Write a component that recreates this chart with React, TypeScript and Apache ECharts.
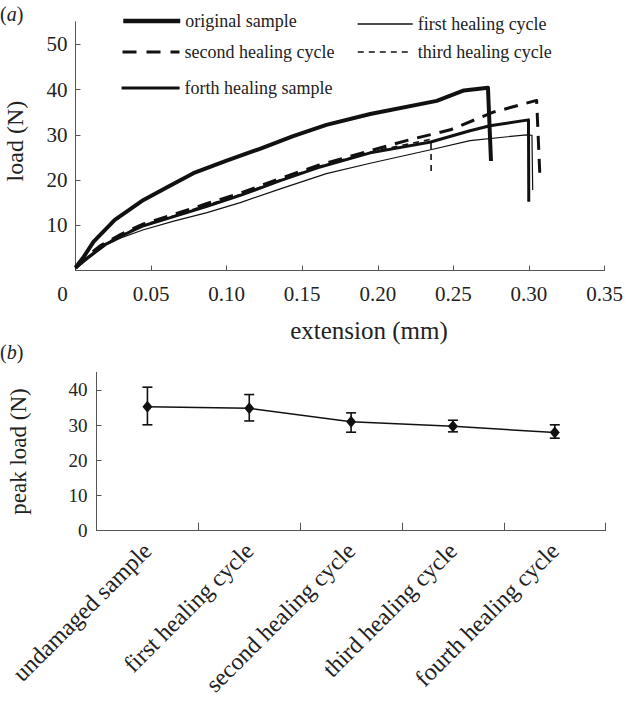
import React, { useEffect, useRef } from "react";
import * as echarts from "echarts";

// ---------- Data: panel (a) load vs extension ----------
const originalX = [0, 0.005, 0.012, 0.026, 0.045, 0.06, 0.078, 0.1, 0.122, 0.144, 0.166, 0.195, 0.239, 0.257, 0.2729, 0.2749];
const originalY = [0.6, 2.8, 6.4, 11.2, 15.6, 18.3, 21.5, 24.3, 26.9, 29.7, 32.2, 34.6, 37.5, 39.8, 40.4, 24.2];

const firstX = [0, 0.008, 0.02, 0.03, 0.045, 0.065, 0.087, 0.109, 0.135, 0.166, 0.195, 0.235, 0.261, 0.2985, 0.302, 0.3025];
const firstY = [0.3, 2.5, 5.6, 7.2, 9.0, 10.9, 12.8, 15.0, 18.0, 21.4, 23.7, 26.7, 28.7, 30.0, 29.9, 17.8];

const secondX = [0, 0.008, 0.016, 0.03, 0.045, 0.065, 0.087, 0.109, 0.135, 0.16, 0.195, 0.221, 0.248, 0.2764, 0.3051, 0.3072];
const secondY = [0.8, 3.2, 5.4, 8.0, 10.3, 12.4, 14.8, 17.1, 20.3, 23.2, 26.5, 28.9, 31.1, 35.0, 37.6, 21.3];

const thirdX = [0, 0.008, 0.02, 0.03, 0.045, 0.065, 0.087, 0.109, 0.135, 0.16, 0.195, 0.2352, 0.2353];
const thirdY = [0.6, 2.9, 6.0, 7.8, 10.1, 12.1, 14.5, 16.8, 20.0, 22.9, 26.2, 29.0, 21.3];

const forthX = [0, 0.007, 0.02, 0.03, 0.045, 0.065, 0.087, 0.109, 0.135, 0.16, 0.195, 0.235, 0.261, 0.2742, 0.2997, 0.2999];
const forthY = [0.5, 2.6, 5.8, 7.6, 9.9, 11.9, 14.2, 16.6, 19.8, 22.7, 26.0, 28.4, 30.9, 32.0, 33.3, 15.2];

const topXTicks = [0, 0.05, 0.1, 0.15, 0.2, 0.25, 0.3, 0.35];
const topYTicks = [10, 20, 30, 40, 50];

// ---------- Data: panel (b) peak load ----------
const stages = ["undamaged sample", "first healing cycle", "second healing cycle", "third healing cycle", "fourth healing cycle"];
const peakMean = [35.2, 34.8, 31.0, 29.7, 27.9];
const peakLow = [30.1, 31.2, 28.0, 28.1, 26.3];
const peakHigh = [40.8, 38.7, 33.5, 31.4, 30.1];
const bottomYTicks = [0, 10, 20, 30, 40];

const FONT = "'Liberation Serif', 'Times New Roman', serif";
const INK = "#111";
const AXIS = "#555";
const TXT = "#222";

const pairs = (xs: number[], ys: number[]) => xs.map((x, i) => [x, ys[i]]);

export default function App() {
  const ref = useRef<HTMLDivElement>(null);

  useEffect(() => {
    if (!ref.current) return;
    const chart = echarts.init(ref.current, undefined, { renderer: "svg" });

    const legendText = { fontSize: 18, fontFamily: FONT, color: TXT, lineHeight: 20 };
    const mkLegend = (name: string, left: number, top: number, w: number, lw: number, type: any) => ({
      left,
      top,
      data: [name],
      itemWidth: w,
      itemHeight: 10,
      padding: 0,
      selectedMode: false,
      itemStyle: { opacity: 0, borderWidth: 0 },
      lineStyle: { width: lw, type, color: INK, cap: "butt" },
      textStyle: legendText,
    });

    const lineSeries = (name: string, xs: number[], ys: number[], width: number, type: any) => ({
      name,
      type: "line",
      xAxisIndex: 0,
      yAxisIndex: 0,
      data: pairs(xs, ys),
      showSymbol: false,
      symbol: "none",
      smooth: false,
      color: INK,
      lineStyle: { color: INK, width, type, cap: "butt", join: "round" },
    });

    const option: any = {
      animation: false,
      backgroundColor: "#fff",
      textStyle: { fontFamily: FONT },
      legend: [
        mkLegend("original sample", 121, 11, 57, 4.5, "solid"),
        mkLegend("first healing cycle", 357, 14, 55, 1.3, "solid"),
        mkLegend("second healing cycle", 121, 42, 57, 3, [14, 10]),
        mkLegend("third healing cycle", 357, 42, 55, 1.6, [6, 5]),
        mkLegend("forth healing sample", 120, 78, 58, 3.2, "solid"),
      ],
      graphic: [
        {
          type: "text",
          left: 0,
          top: 4,
          style: {
            text: "({i|a})",
            fontSize: 20,
            fontFamily: FONT,
            fill: TXT,
            rich: { i: { fontStyle: "italic", fontSize: 20, fontFamily: FONT, fill: TXT } },
          },
        },
        {
          type: "text",
          left: 0,
          top: 342,
          style: {
            text: "({i|b})",
            fontSize: 20,
            fontFamily: FONT,
            fill: TXT,
            rich: { i: { fontStyle: "italic", fontSize: 20, fontFamily: FONT, fill: TXT } },
          },
        },
      ],
      grid: [
        { left: 75.5, top: 21.7, width: 529, height: 248.8, containLabel: false, outerBoundsMode: "none" },
        { left: 96.5, top: 372.4, width: 509.2, height: 158.3, containLabel: false, outerBoundsMode: "none" },
      ],
      xAxis: [
        {
          gridIndex: 0,
          type: "value",
          min: 0,
          max: 0.35,
          interval: 0.05,
          axisLine: { show: true, lineStyle: { color: AXIS, width: 1 } },
          axisTick: { show: true, inside: true, length: 5, lineStyle: { color: AXIS }, customValues: topXTicks },
          splitLine: { show: false },
          axisLabel: {
            customValues: topXTicks,
            margin: 13,
            fontSize: 21,
            fontFamily: FONT,
            color: TXT,
            formatter: (v: number) => (v === 0 ? "{z|0}" : v.toFixed(2)),
            rich: { z: { fontSize: 21, fontFamily: FONT, color: TXT, padding: [0, 26, 0, 0] } },
          },
          name: "extension (mm)",
          nameLocation: "middle",
          nameGap: 47,
          nameTextStyle: { fontSize: 25, fontFamily: FONT, color: TXT, padding: [0, 0, 0, 58] },
        },
        {
          gridIndex: 1,
          type: "category",
          data: stages,
          boundaryGap: true,
          axisLine: { show: true, lineStyle: { color: AXIS, width: 1 } },
          axisTick: { show: true, inside: true, length: 8, lineStyle: { color: AXIS } },
          splitLine: { show: false },
          axisLabel: {
            interval: 0,
            rotate: 45,
            margin: 16,
            fontSize: 24,
            fontFamily: FONT,
            color: TXT,
          },
        },
      ],
      yAxis: [
        {
          gridIndex: 0,
          type: "value",
          min: 0,
          max: 55,
          interval: 10,
          axisLine: { show: true, lineStyle: { color: AXIS, width: 1 } },
          axisTick: { show: true, inside: true, length: 5, lineStyle: { color: AXIS }, customValues: topYTicks },
          splitLine: { show: false },
          axisLabel: { customValues: topYTicks, margin: 8, fontSize: 21, fontFamily: FONT, color: TXT },
          name: "load (N)",
          nameLocation: "middle",
          nameGap: 49,
          nameTextStyle: { fontSize: 24, fontFamily: FONT, color: TXT, padding: [0, 0, 0, 10] },
        },
        {
          gridIndex: 1,
          type: "value",
          min: 0,
          max: 45,
          interval: 10,
          axisLine: { show: true, lineStyle: { color: AXIS, width: 1 } },
          axisTick: { show: true, inside: true, length: 5, lineStyle: { color: AXIS }, customValues: bottomYTicks },
          splitLine: { show: false },
          axisLabel: { customValues: bottomYTicks, margin: 9, fontSize: 19, fontFamily: FONT, color: TXT },
          name: "peak load (N)",
          nameLocation: "middle",
          nameGap: 67,
          nameTextStyle: { fontSize: 23, fontFamily: FONT, color: TXT },
        },
      ],
      series: [
        lineSeries("first healing cycle", firstX, firstY, 1.2, "solid"),
        lineSeries("third healing cycle", thirdX, thirdY, 1.6, [6, 5]),
        lineSeries("second healing cycle", secondX, secondY, 3, [14, 9]),
        lineSeries("forth healing sample", forthX, forthY, 3, "solid"),
        lineSeries("original sample", originalX, originalY, 4, "solid"),
        {
          name: "peak load",
          type: "line",
          xAxisIndex: 1,
          yAxisIndex: 1,
          data: peakMean,
          symbol: "diamond",
          symbolSize: [10, 12],
          color: INK,
          itemStyle: { color: INK },
          lineStyle: { color: INK, width: 1.5 },
          z: 3,
        },
        {
          name: "peak error",
          type: "custom",
          xAxisIndex: 1,
          yAxisIndex: 1,
          data: stages.map((_, i) => [i, peakLow[i], peakHigh[i]]),
          z: 2,
          renderItem: (_params: any, api: any) => {
            const idx = api.value(0);
            const lo = api.coord([idx, api.value(1)]);
            const hi = api.coord([idx, api.value(2)]);
            const hw = 5;
            const st = { stroke: INK, lineWidth: 1.6 };
            return {
              type: "group",
              children: [
                { type: "line", shape: { x1: lo[0], y1: lo[1], x2: hi[0], y2: hi[1] }, style: st },
                { type: "line", shape: { x1: lo[0] - hw, y1: lo[1], x2: lo[0] + hw, y2: lo[1] }, style: st },
                { type: "line", shape: { x1: hi[0] - hw, y1: hi[1], x2: hi[0] + hw, y2: hi[1] }, style: st },
              ],
            };
          },
        },
      ],
    };

    chart.setOption(option);
    return () => chart.dispose();
  }, []);

  return (
    <div
      ref={ref}
      style={{ position: "fixed", left: 0, top: 0, width: 629, height: 706, background: "#fff" }}
    />
  );
}
